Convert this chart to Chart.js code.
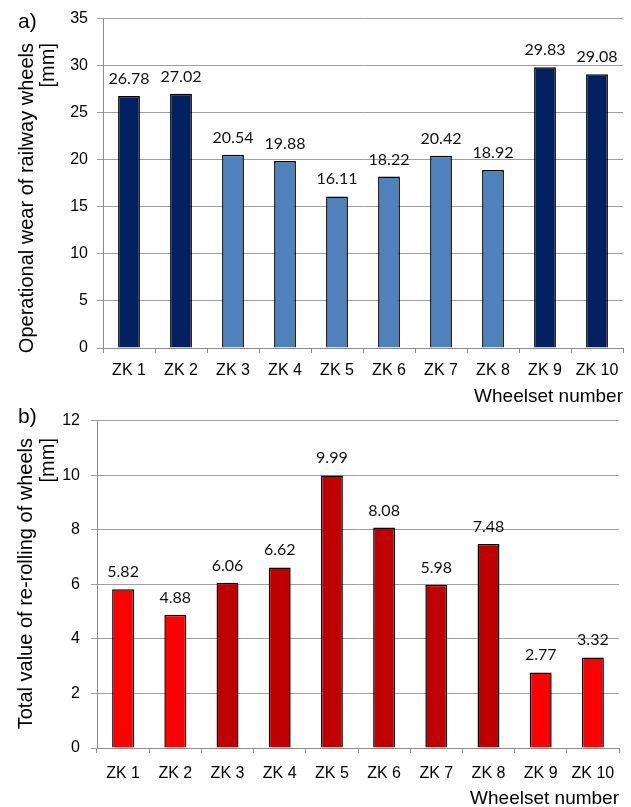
<!DOCTYPE html>
<html><head><meta charset="utf-8">
<script src="https://cdn.jsdelivr.net/npm/chart.js@4.4.1/dist/chart.umd.min.js"></script>
<style>
html,body{margin:0;padding:0;background:#fff;width:631px;height:807px;overflow:hidden;}
canvas{position:absolute;left:0;}
#ca{top:0;}
#cb{top:400px;}
</style></head><body>
<canvas id="ca" width="631" height="410"></canvas>
<canvas id="cb" width="631" height="407"></canvas>
<script>
const categories = ['ZK 1','ZK 2','ZK 3','ZK 4','ZK 5','ZK 6','ZK 7','ZK 8','ZK 9','ZK 10'];
const wearValues = [26.78, 27.02, 20.54, 19.88, 16.11, 18.22, 20.42, 18.92, 29.83, 29.08];
const rerollValues = [5.82, 4.88, 6.06, 6.62, 9.99, 8.08, 5.98, 7.48, 2.77, 3.32];
const wearColors = ['#002060','#002060','#4F81BD','#4F81BD','#4F81BD','#4F81BD','#4F81BD','#4F81BD','#002060','#002060'];
const rerollColors = ['#FF0000','#FF0000','#C00000','#C00000','#C00000','#C00000','#C00000','#C00000','#FF0000','#FF0000'];
const wearTitle = ['Operational wear of railway wheels','[mm]'];
const rerollTitle = ['Total value of re-rolling of wheels','[mm]'];
const xTitle = 'Wheelset number';

const AX = 'Liberation Sans, Arial, sans-serif';
const GRID = '#a0a0a0';
const AXIS = '#8c8c8c';

const valueLabels = {
  id: 'valueLabels',
  afterDatasetsDraw(chart, args, opts) {
    const ctx = chart.ctx;
    const meta = chart.getDatasetMeta(0);
    const data = chart.data.datasets[0].data;
    ctx.save();
    ctx.font = '16px Lato, "Open Sans", sans-serif';
    ctx.fillStyle = '#111';
    ctx.textAlign = 'center';
    ctx.textBaseline = 'alphabetic';
    meta.data.forEach((bar, i) => {
      ctx.fillText(data[i].toFixed(2), bar.x, bar.y - opts.gap);
    });
    ctx.restore();
  }
};

const sideTexts = {
  id: 'sideTexts',
  afterDraw(chart, args, opts) {
    const ctx = chart.ctx;
    ctx.save();
    ctx.fillStyle = '#000';
    ctx.font = '20px ' + AX;
    ctx.textBaseline = 'alphabetic';
    opts.lines.forEach((line, i) => {
      ctx.save();
      ctx.translate(opts.xs[i], opts.endY);
      ctx.rotate(-Math.PI / 2);
      ctx.textAlign = 'right';
      ctx.fillText(line, 0, 0);
      ctx.restore();
    });
    ctx.font = '21px ' + AX;
    ctx.textAlign = 'left';
    ctx.fillText(opts.tag, opts.tagX, opts.tagY);
    ctx.restore();
  }
};

function makeChart(id, values, colors, ymax, step, o) {
  return new Chart(document.getElementById(id), {
    type: 'bar',
    data: {
      labels: categories,
      datasets: [{
        data: values,
        backgroundColor: colors,
        borderColor: '#000',
        borderWidth: 1.5,
        categoryPercentage: 1,
        barPercentage: 0.42
      }]
    },
    plugins: [valueLabels, sideTexts],
    options: {
      responsive: false,
      animation: false,
      devicePixelRatio: 1,
      layout: { padding: { top: o.top, left: 0, right: o.right, bottom: 0 } },
      plugins: {
        legend: { display: false },
        tooltip: { enabled: false },
        valueLabels: { gap: 12 },
        sideTexts: o.side
      },
      scales: {
        y: {
          min: 0, max: ymax,
          ticks: { stepSize: step, font: { family: AX, size: 16 }, color: '#000', padding: o.ypad },
          grid: { color: GRID, lineWidth: 1, tickLength: 6 },
          border: { color: AXIS, width: 1 },
          afterFit(s) { s.width = o.yw; }
        },
        x: {
          ticks: { font: { family: AX, size: 16 }, color: '#000', padding: o.xpad, maxRotation: 0, autoSkip: false },
          grid: { display: true, drawOnChartArea: false, drawTicks: true, tickLength: 5, color: AXIS, offset: true },
          border: { color: AXIS, width: 1 },
          title: { display: true, text: xTitle, align: 'end', color: '#000',
                   font: { family: AX, size: 19, lineHeight: 1 }, padding: { top: 0, bottom: o.tpad } },
          afterFit(s) { s.height = o.xh; }
        }
      }
    }
  });
}

makeChart('ca', wearValues, wearColors, 35, 5, {
  top: 16, right: 8, yw: 103, xh: 62, ypad: 9, xpad: 8, tpad: 4,
  side: { lines: wearTitle, xs: [33, 54], endY: 43, tag: 'a)', tagX: 18, tagY: 28 }
});
makeChart('cb', rerollValues, rerollColors, 12, 2, {
  top: 18, right: 12, yw: 97, xh: 59, ypad: 11, xpad: 11, tpad: -1,
  side: { lines: rerollTitle, xs: [32, 54], endY: 38, tag: 'b)', tagX: 18, tagY: 23 }
});
</script>
</body></html>
